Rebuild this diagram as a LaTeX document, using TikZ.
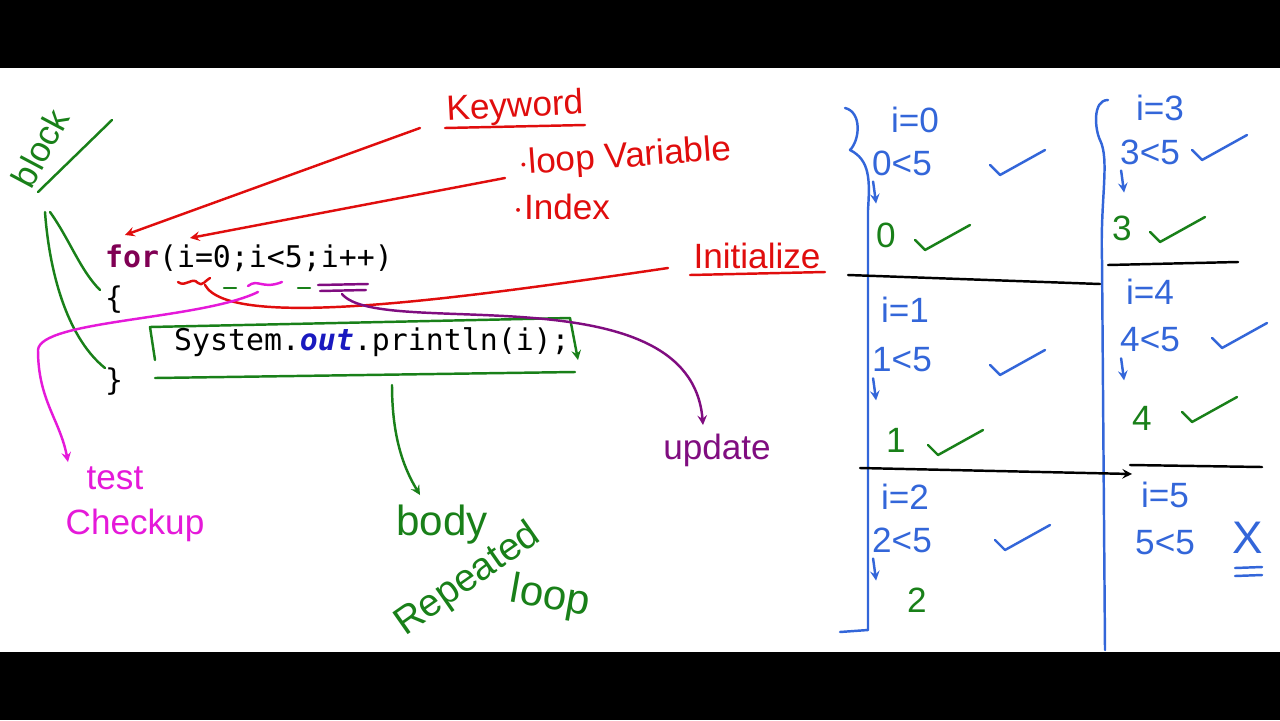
\documentclass[tikz,border=0pt]{standalone}
\usepackage{fontspec}
\setmainfont{Liberation Sans}
\newfontfamily\codefont{DejaVu Sans Mono}
\usetikzlibrary{calc,positioning}
\definecolor{penred}{rgb}{0.88,0.05,0.05}
\definecolor{pengreen}{rgb}{0.1,0.5,0.1}
\definecolor{penblue}{rgb}{0.2,0.4,0.85}
\definecolor{penpink}{rgb}{0.9,0.1,0.85}
\definecolor{penpurple}{rgb}{0.5,0.05,0.5}
\definecolor{kwcolor}{rgb}{0.5,0.0,0.33}
\definecolor{outcolor}{rgb}{0.1,0.1,0.75}
\tikzset{
  hand/.style={font=\fontsize{20}{22}\selectfont,inner sep=1pt},
  code/.style={font=\codefont\fontsize{17}{19}\selectfont,inner sep=1pt,anchor=west},
  pen/.style={line width=1.4pt,line cap=round,line join=round},
  tick/.style={pen,color=#1},
}
\begin{document}
\begin{tikzpicture}[x=0.02cm,y=-0.02cm,>=stealth]
\useasboundingbox (0,0) rectangle (1280,720);
\fill[black] (0,0) rectangle (1280,68);
\fill[black] (0,652) rectangle (1280,720);
% code
\node[code] (for) at (103,258) {\textcolor{kwcolor}{\textbf{for}}(i=0;i<5;i++)};
\node[code] (open) at (103,300) {\{};
\node[code] (body) at (172,342) {System.\textcolor{outcolor}{\textbf{\textit{out}}}.println(i);};
\node[code] (close) at (103,382) {\}};
% keyword and loop variable
\node[hand,color=penred,rotate=3] (kw) at (515,108) {Keyword};
\draw[pen,penred] (445,128) -- (585,125);
\node[hand,color=penred,rotate=4] (lv) at (625,158) {$\cdot$loop Variable};
\node[hand,color=penred] (idx) at (562,207) {$\cdot$Index};
\coordinate (kwend) at (125,235);
\coordinate (lvend) at (190,238);
\draw[pen,penred,->] (420,128) -- (kwend);
\draw[pen,penred,->] (505,178) -- (lvend);
% initialize
\node[hand,color=penred] (init) at (757,256) {Initialize};
\draw[pen,penred] (690,275) -- (825,272);
\draw[pen,penred] (178,282) .. controls (186,288) and (192,276) .. (198,283) .. controls (202,287) and (206,280) .. (210,278);
\draw[pen,penred] (205,285) .. controls (230,330) and (450,300) .. (668,268);
% block
\node[hand,color=pengreen,rotate=62] (blk) at (40,148) {block};
\draw[pen,pengreen] (38,192) -- (112,120);
\draw[pen,pengreen] (50,212) .. controls (70,240) and (80,270) .. (100,290);
\draw[pen,pengreen] (45,212) .. controls (50,280) and (70,340) .. (105,368);
\draw[pen,pengreen] (224,288) -- (236,288) (298,288) -- (310,288);
\draw[pen,pengreen] (155,360) -- (150,327) -- (570,318);
\draw[pen,pengreen,->] (570,318) -- (578,360);
\draw[pen,pengreen] (155,378) -- (575,372);
\draw[pen,pengreen,->] (392,385) .. controls (392,440) and (405,470) .. (420,495);
\node[hand,color=pengreen,font=\fontsize{24}{26}\selectfont] (bdy) at (442,525) {body};
\node[hand,color=pengreen,font=\fontsize{22}{24}\selectfont,rotate=35] (rep) at (468,580) {Repeated};
\node[hand,color=pengreen,font=\fontsize{24}{26}\selectfont,rotate=-10] (lp) at (550,598) {loop};
% test
\draw[pen,penpink] (248,286) .. controls (258,278) and (262,290) .. (282,282);
\draw[pen,penpink,->] (258,292) .. controls (200,320) and (40,320) .. (38,350) .. controls (38,400) and (60,420) .. (68,462);
\node[hand,color=penpink] (tst) at (115,478) {test};
\node[hand,color=penpink] (chk) at (135,525) {Checkup};
% update
\draw[pen,penpurple] (318,285) -- (368,284) (320,291) -- (366,290);
\draw[pen,penpurple,->] (342,294) .. controls (380,340) and (690,270) .. (703,425);
\node[hand,color=penpurple] (upd) at (717,450) {update};
% columns
\draw[pen,penblue] (845,108) .. controls (862,112) and (860,140) .. (850,150) .. controls (870,160) and (870,180) .. (868,210) -- (868,630) -- (840,632);
\draw[pen,penblue] (1108,100) .. controls (1092,100) and (1095,130) .. (1100,140) .. controls (1110,160) and (1100,200) .. (1102,260) -- (1105,650);
\draw[pen,black] (848,275) -- (1100,284);
\draw[pen,black] (1108,265) -- (1238,262);
\draw[pen,black,->] (860,468) -- (1132,474);
\draw[pen,black] (1130,465) -- (1262,467);
\node[hand,color=penblue] (a0) at (915,120) {i=0};
\node[hand,color=penblue] (b0) at (902,163) {0<5};
\node[hand,color=pengreen] (c0) at (886,235) {0};
\node[hand,color=penblue] (a1) at (905,310) {i=1};
\node[hand,color=penblue] (b1) at (902,360) {1<5};
\node[hand,color=pengreen] (c1) at (896,440) {1};
\node[hand,color=penblue] (a2) at (905,497) {i=2};
\node[hand,color=penblue] (b2) at (902,540) {2<5};
\node[hand,color=pengreen] (c2) at (917,600) {2};
\node[hand,color=penblue] (a3) at (1160,108) {i=3};
\node[hand,color=penblue] (b3) at (1150,152) {3<5};
\node[hand,color=pengreen] (c3) at (1122,228) {3};
\node[hand,color=penblue] (a4) at (1150,292) {i=4};
\node[hand,color=penblue] (b4) at (1150,340) {4<5};
\node[hand,color=pengreen] (c4) at (1142,418) {4};
\node[hand,color=penblue] (a5) at (1165,495) {i=5};
\node[hand,color=penblue] (b5) at (1165,543) {5<5};
\node[hand,color=penblue,font=\fontsize{26}{28}\selectfont] (x5) at (1248,538) {X};
\draw[pen,penblue] (1235,568) -- (1262,567) (1235,576) -- (1262,575);
% arrows down
\foreach \s in {b0,b1,b2,b3,b4}
  \draw[pen,penblue,->] ($(\s.south west)+(3,4)$) -- ++(3,22);
% check marks
\foreach \x/\y/\c in {990/165/penblue,915/240/pengreen,990/365/penblue,928/445/pengreen,
  995/540/penblue,1192/150/penblue,1150/232/pengreen,1212/338/penblue,1182/412/pengreen}
  \draw[tick=\c] (\x,\y) -- ++(10,10) -- ++(45,-25);
\end{tikzpicture}
\end{document}
